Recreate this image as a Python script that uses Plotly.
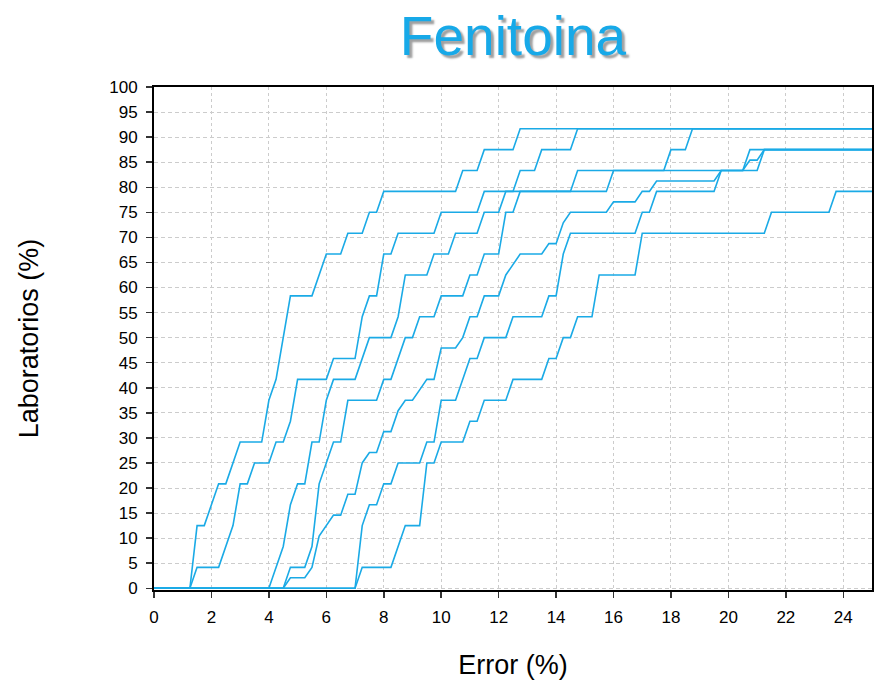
import plotly.graph_objects as go

# ---- data (error %, cumulative % of laboratories) ----
x_s1 = [0, 1.25, 1.5, 1.75, 2.25, 2.5, 3.0, 3.75, 4.0, 4.25, 4.75, 5.5, 6.0, 6.5, 6.75, 7.25, 7.5, 7.75, 8.0, 10.5, 10.75, 11.25, 11.5, 12.5, 12.75, 25]
y_s1 = [0, 0, 12.5, 12.5, 20.83, 20.83, 29.17, 29.17, 37.5, 41.67, 58.33, 58.33, 66.67, 66.67, 70.83, 70.83, 75, 75, 79.17, 79.17, 83.33, 83.33, 87.5, 87.5, 91.67, 91.67]

x_s2 = [0, 1.25, 1.5, 2.25, 2.75, 3.0, 3.25, 3.5, 4.0, 4.25, 4.5, 4.75, 5.0, 6.0, 6.25, 7.0, 7.25, 7.5, 7.75, 8.0, 8.25, 8.5, 9.75, 10.0, 11.25, 11.5, 15.75, 16.0, 20.5, 20.75, 25]
y_s2 = [0, 0, 4.17, 4.17, 12.5, 20.83, 20.83, 25, 25, 29.17, 29.17, 33.33, 41.67, 41.67, 45.83, 45.83, 54.17, 58.33, 58.33, 66.67, 66.67, 70.83, 70.83, 75, 75, 79.17, 79.17, 83.33, 83.33, 87.5, 87.5]

x_s3 = [0, 4.0, 4.5, 4.75, 5.0, 5.25, 5.5, 5.75, 6.0, 6.25, 7.0, 7.25, 7.5, 8.25, 8.5, 8.75, 9.5, 9.75, 10.25, 10.5, 11.25, 11.5, 12.0, 12.25, 12.5, 12.75, 13.25, 13.5, 14.5, 14.75, 25]
y_s3 = [0, 0, 8.33, 16.67, 20.83, 20.83, 29.17, 29.17, 37.5, 41.67, 41.67, 45.83, 50, 50, 54.17, 62.5, 62.5, 66.67, 66.67, 70.83, 70.83, 75, 75, 79.17, 79.17, 83.33, 83.33, 87.5, 87.5, 91.67, 91.67]

x_s4 = [0, 4.5, 4.75, 5.25, 5.5, 5.75, 6.25, 6.5, 6.75, 7.75, 8.0, 8.25, 8.75, 9.0, 9.25, 9.75, 10.0, 10.75, 11.0, 11.25, 11.5, 12.0, 12.25, 12.5, 12.75, 14.5, 14.75, 17.75, 18.0, 18.5, 18.75, 25]
y_s4 = [0, 0, 4.17, 4.17, 8.33, 20.83, 29.17, 29.17, 37.5, 37.5, 41.67, 41.67, 50, 50, 54.17, 54.17, 58.33, 58.33, 62.5, 62.5, 66.67, 66.67, 75, 75, 79.17, 79.17, 83.33, 83.33, 87.5, 87.5, 91.67, 91.67]

x_s5 = [0, 4.5, 4.75, 5.25, 5.5, 5.75, 6.25, 6.5, 6.75, 7.0, 7.25, 7.5, 7.75, 8.0, 8.25, 8.5, 8.75, 9.0, 9.25, 9.5,
        9.75, 10.0, 10.5, 10.75, 11.0, 11.25, 11.5, 12.0, 12.25, 12.75, 13.5, 13.75, 14.0, 14.25, 14.5, 15.75, 16.0, 16.75,
        17.0, 17.25, 17.5, 19.5, 19.75, 20.5, 20.75, 21.0, 21.25, 25]
y_s5 = [0, 0, 2.08, 2.08, 4.17, 10.42, 14.58, 14.58, 18.75, 18.75, 25, 27.08, 27.08, 31.25, 31.25, 35.42, 37.5, 37.5, 39.58, 41.67,
        41.67, 47.92, 47.92, 50, 54.17, 54.17, 58.33, 58.33, 62.5, 66.67, 66.67, 68.75, 68.75, 72.92, 75, 75, 77.08, 77.08,
        79.17, 79.17, 81.25, 81.25, 83.33, 83.33, 85.42, 85.42, 87.5, 87.5]

x_s6 = [0, 7.0, 7.25, 7.5, 7.75, 8.0, 8.25, 8.5, 9.25, 9.5, 9.75, 10.0, 10.5, 11.0, 11.25, 11.5, 12.25, 12.5, 13.5, 13.75, 14.0, 14.25, 14.5, 16.75, 17.0, 17.25, 17.5, 19.5, 19.75, 21.0, 21.25, 25]
y_s6 = [0, 0, 12.5, 16.67, 16.67, 20.83, 20.83, 25, 25, 29.17, 29.17, 37.5, 37.5, 45.83, 45.83, 50, 50, 54.17, 54.17, 58.33, 58.33, 66.67, 70.83, 70.83, 75, 75, 79.17, 79.17, 83.33, 83.33, 87.5, 87.5]

x_s7 = [0, 7.0, 7.25, 8.25, 8.75, 9.25, 9.5, 9.75, 10.0, 10.75, 11.0, 11.25, 11.5, 12.25, 12.5, 13.5, 13.75, 14.0, 14.25, 14.5, 14.75, 15.25, 15.5, 16.75, 17.0, 21.25, 21.5, 23.5, 23.75, 25]
y_s7 = [0, 0, 4.17, 4.17, 12.5, 12.5, 25, 25, 29.17, 29.17, 33.33, 33.33, 37.5, 37.5, 41.67, 41.67, 45.83, 45.83, 50, 50, 54.17, 54.17, 62.5, 62.5, 70.83, 70.83, 75, 75, 79.17, 79.17]

x_ticks = [0, 2, 4, 6, 8, 10, 12, 14, 16, 18, 20, 22, 24]
y_ticks = [0, 5, 10, 15, 20, 25, 30, 35, 40, 45, 50, 55, 60, 65, 70, 75, 80, 85, 90, 95, 100]

title_text = "Fenitoina"
x_title = "Error (%)"
y_title = "Laboratorios (%)"

LINE = "#1AAAE6"
FONT = "Liberation Sans, Arial, sans-serif"

series = [(x_s1, y_s1), (x_s2, y_s2), (x_s3, y_s3), (x_s4, y_s4),
          (x_s5, y_s5), (x_s6, y_s6), (x_s7, y_s7)]

fig = go.Figure()
for xs, ys in series:
    fig.add_trace(go.Scatter(x=xs, y=ys, mode="lines",
                             line=dict(color=LINE, width=1.6),
                             hoverinfo="skip", showlegend=False))

axis_common = dict(
    showline=True, linecolor="black", linewidth=2, mirror=True,
    ticks="outside", ticklen=6, tickwidth=1.5, tickcolor="#333",
    ticklabelstandoff=5,
    tickfont=dict(family=FONT, size=17, color="black"),
    showgrid=True, gridcolor="#cccccc", gridwidth=1,
    zeroline=False, layer="below traces",
)

fig.update_layout(
    width=874, height=680,
    margin=dict(l=154, r=2, t=87, b=90, autoexpand=False),
    paper_bgcolor="white", plot_bgcolor="white",
    showlegend=False,
    title=dict(text=title_text, xref="paper", x=0.5, xanchor="center",
               yref="container", y=0.947, yanchor="middle",
               font=dict(family=FONT, size=55, color="#17A9E8",
                         shadow="3px 3px 2px #a0a0a0")),
    xaxis=dict(range=[0, 25], tickmode="array", tickvals=x_ticks,
               griddash="3px,3px",
               title=dict(text=x_title, standoff=29,
                          font=dict(family=FONT, size=27, color="black")),
               **axis_common),
    yaxis=dict(range=[-0.35, 100], tickmode="array", tickvals=y_ticks,
               griddash="4px,3px",
               title=dict(text=y_title, standoff=63,
                          font=dict(family=FONT, size=27, color="black")),
               **axis_common),
)

# let the 874x680 figure fill the page exactly (no default body margin)
page_js = ("document.body.style.margin='0';"
           "document.body.style.overflow='hidden';"
           "document.documentElement.style.overflow='hidden';")

fig.write_html("out.html", post_script=page_js,
               config={"displayModeBar": False, "staticPlot": True})
